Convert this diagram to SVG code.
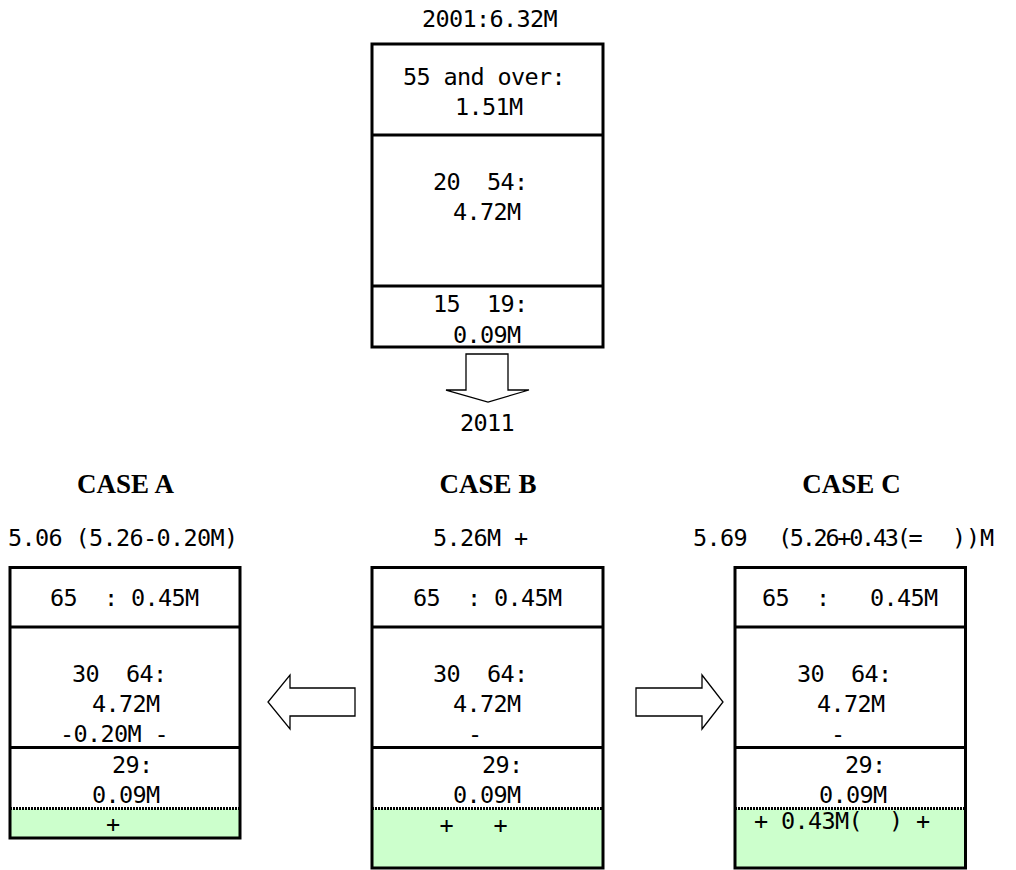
<svg xmlns="http://www.w3.org/2000/svg" width="1016" height="870" viewBox="0 0 1016 870">
<style>
.t{font-family:"DejaVu Sans Mono","Liberation Mono",monospace;font-size:23.5px;letter-spacing:-0.65px;fill:#000;white-space:pre}
.case{font-family:"Liberation Serif","Times New Roman",serif;font-weight:bold;font-size:27px;fill:#000;text-anchor:middle}
.bg{fill:#fff;stroke:none}
.frame{fill:none;stroke:#000;stroke-width:3}
.div{stroke:#000;stroke-width:3}
.dot{stroke:#000;stroke-width:3;stroke-dasharray:2 1}
.green{fill:#ccffcc}
.arrow{fill:#fff;stroke:#000;stroke-width:1.3;stroke-linejoin:miter}
</style>
<rect width="1016" height="870" fill="#fff"/>

<g id="node-2001">
  <text class="t" x="422" y="27" xml:space="preserve">2001:6.32M</text>
  <rect class="bg" x="372" y="44" width="231" height="303"/>
  <line class="div" x1="372" y1="135" x2="603" y2="135"/>
  <line class="div" x1="372" y1="286" x2="603" y2="286"/>
  <rect class="frame" x="372" y="44" width="231" height="303"/>
  <text class="t" x="403" y="85" xml:space="preserve">55 and over:</text>
  <text class="t" x="455" y="115" xml:space="preserve">1.51M</text>
  <text class="t" x="433" y="190" xml:space="preserve">20  54:</text>
  <text class="t" x="453" y="220" xml:space="preserve">4.72M</text>
  <text class="t" x="433" y="312" xml:space="preserve">15  19:</text>
  <text class="t" x="453" y="343" xml:space="preserve">0.09M</text>
</g>

<g id="node-caseA">
  <text class="case" x="125.5" y="493">CASE A</text>
  <text class="t" x="8" y="546" xml:space="preserve">5.06 (5.26-0.20M)</text>
  <rect class="bg" x="10" y="567.5" width="230" height="270.5"/>
  <rect class="green" x="10" y="809" width="230" height="29"/>
  <line class="div" x1="10" y1="627" x2="240" y2="627"/>
  <line class="div" x1="10" y1="747.5" x2="240" y2="747.5"/>
  <line class="dot" x1="10" y1="808.5" x2="240" y2="808.5"/>
  <rect class="frame" x="10" y="567.5" width="230" height="270.5"/>
  <text class="t" x="50" y="606" xml:space="preserve">65  : 0.45M</text>
  <text class="t" x="72" y="682" xml:space="preserve">30  64:</text>
  <text class="t" x="92" y="712" xml:space="preserve">4.72M</text>
  <text class="t" x="60" y="742" xml:space="preserve">-0.20M -</text>
  <text class="t" x="112" y="773" xml:space="preserve">29:</text>
  <text class="t" x="92" y="803" xml:space="preserve">0.09M</text>
  <text class="t" x="106" y="832" xml:space="preserve">+</text>
</g>

<g id="node-caseB">
  <text class="case" x="488" y="493">CASE B</text>
  <text class="t" x="433" y="546" xml:space="preserve">5.26M +</text>
  <rect class="bg" x="372" y="567.5" width="231" height="300.5"/>
  <rect class="green" x="372" y="809" width="231" height="59"/>
  <line class="div" x1="372" y1="627" x2="603" y2="627"/>
  <line class="div" x1="372" y1="747.5" x2="603" y2="747.5"/>
  <line class="dot" x1="372" y1="808.5" x2="603" y2="808.5"/>
  <rect class="frame" x="372" y="567.5" width="231" height="300.5"/>
  <text class="t" x="413" y="606" xml:space="preserve">65  : 0.45M</text>
  <text class="t" x="433" y="682" xml:space="preserve">30  64:</text>
  <text class="t" x="453" y="712" xml:space="preserve">4.72M</text>
  <text class="t" x="468" y="742" xml:space="preserve">-</text>
  <text class="t" x="482" y="773" xml:space="preserve">29:</text>
  <text class="t" x="453" y="803" xml:space="preserve">0.09M</text>
  <text class="t" x="439.5" y="833" xml:space="preserve">+   +</text>
</g>

<g id="node-caseC">
  <text class="case" x="851.5" y="493">CASE C</text>
  <text class="t" y="546" xml:space="preserve"><tspan x="693">5.69</tspan><tspan x="778" letter-spacing="-2.28">(5.26+0.43(=</tspan><tspan x="952" letter-spacing="-0.15">))M</tspan></text>
  <rect class="bg" x="735" y="567.5" width="230.5" height="300.5"/>
  <rect class="green" x="735" y="809" width="230.5" height="59"/>
  <line class="div" x1="735" y1="627" x2="965.5" y2="627"/>
  <line class="div" x1="735" y1="747.5" x2="965.5" y2="747.5"/>
  <line class="dot" x1="735" y1="808.5" x2="965.5" y2="808.5"/>
  <rect class="frame" x="735" y="567.5" width="230.5" height="300.5"/>
  <text class="t" x="762" y="606" xml:space="preserve">65  :   0.45M</text>
  <text class="t" x="797" y="682" xml:space="preserve">30  64:</text>
  <text class="t" x="817" y="712" xml:space="preserve">4.72M</text>
  <text class="t" x="831" y="742" xml:space="preserve">-</text>
  <text class="t" x="845" y="773" xml:space="preserve">29:</text>
  <text class="t" x="819" y="803" xml:space="preserve">0.09M</text>
  <text class="t" x="754" y="829" letter-spacing="-1.2" xml:space="preserve">+ 0.43M(  ) +</text>
</g>

<g id="connectors">
  <polygon class="arrow" points="466,354 508,354 508,390 529,390 488,402 446,390 466,390"/>
  <text class="t" x="460" y="431" xml:space="preserve">2011</text>
  <polygon class="arrow" points="355,688 290,688 290,675 268,702 290,729 290,716 355,716"/>
  <polygon class="arrow" points="636,688 702,688 702,675 723,702 702,729 702,716 636,716"/>
</g>
</svg>
